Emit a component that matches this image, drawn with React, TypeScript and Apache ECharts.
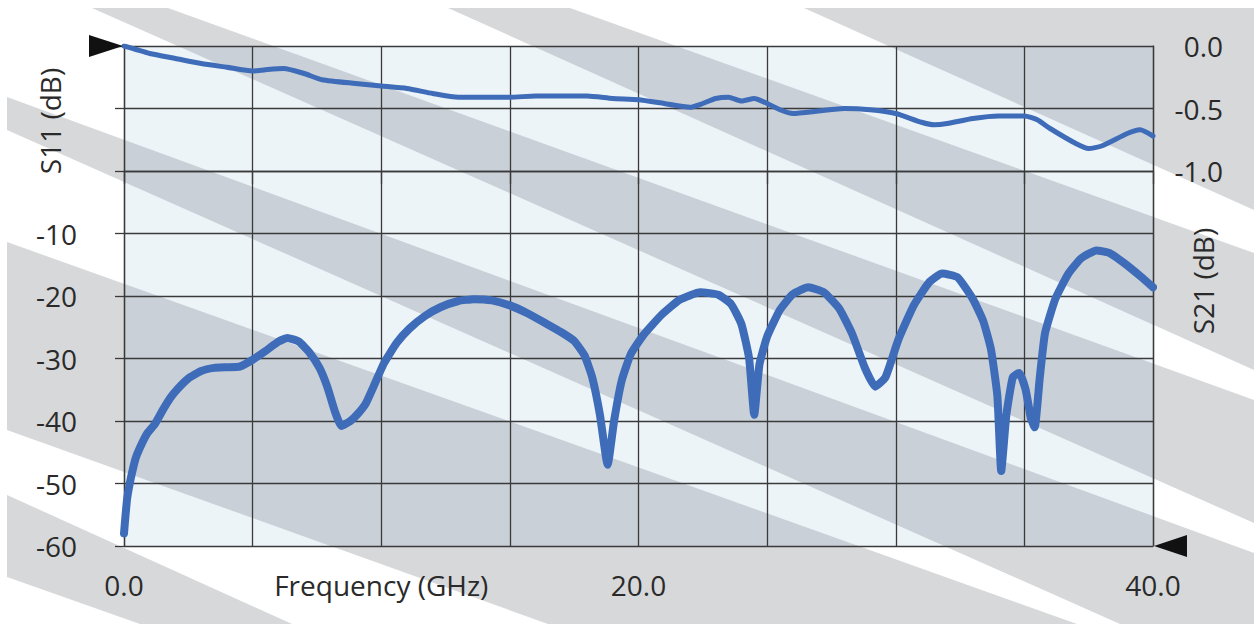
import React, { useEffect, useRef } from "react";
import * as echarts from "echarts";

// ---------- data ----------
// S21 insertion loss (right axis, dB) : [frequency GHz, dB]
const S21_DB: [number, number][] = [
  [0, 0], [0.5, -0.03], [1, -0.06], [2, -0.1], [3, -0.14], [4, -0.17], [5, -0.2],
  [5.5, -0.19], [6.2, -0.18], [7, -0.22], [7.7, -0.27], [9, -0.3], [10, -0.32],
  [11, -0.34], [12, -0.38], [13, -0.41], [14, -0.41], [15, -0.41], [16, -0.4],
  [17, -0.4], [18, -0.4], [19, -0.42], [20, -0.43], [21, -0.46], [22, -0.49],
  [22.5, -0.46], [23, -0.42], [23.5, -0.41], [24, -0.44], [24.5, -0.42], [25, -0.46],
  [25.5, -0.51], [26, -0.54], [27, -0.52], [28, -0.5], [29, -0.51], [30, -0.54],
  [31, -0.61], [31.5, -0.63], [32, -0.62], [33, -0.58], [34, -0.56], [35, -0.56],
  [35.5, -0.59], [36, -0.66], [37, -0.78], [37.5, -0.82], [38, -0.8], [39, -0.7],
  [39.5, -0.67], [40, -0.72],
];

// S11 return loss (left axis, dB) : [frequency GHz, dB]
const S11_DB: [number, number][] = [
  [0, -58], [0.05, -55.5], [0.12, -52.5], [0.2, -50.5], [0.3, -48.5], [0.45, -46],
  [0.65, -44], [0.9, -42], [1.2, -40.5], [1.5, -38.3], [1.8, -36.3], [2.1, -34.8],
  [2.5, -33.2], [3, -32], [3.5, -31.5], [4, -31.4], [4.5, -31.3], [5, -30.2],
  [5.5, -28.8], [6, -27.3], [6.35, -26.7], [6.8, -27.3], [7.2, -29], [7.6, -31.5],
  [7.9, -34.5], [8.2, -38.5], [8.45, -40.8], [8.8, -40], [9.1, -38.8], [9.4, -37.2],
  [9.7, -34.5], [10.1, -30.8], [10.6, -27.5], [11.1, -25.2], [11.7, -23.2],
  [12.3, -21.8], [13, -20.8], [13.6, -20.5], [14.3, -20.7], [15, -21.5], [15.7, -22.8],
  [16.4, -24.4], [17, -25.8], [17.5, -27.2], [17.9, -29.5], [18.2, -33], [18.5, -39],
  [18.8, -47], [19.05, -40], [19.35, -33.5], [19.7, -29.3], [20.2, -26.2], [20.9, -23],
  [21.6, -20.6], [22.4, -19.4], [23.1, -19.8], [23.6, -21.3], [24, -24.5], [24.3, -30],
  [24.5, -39], [24.7, -31], [25, -26.5], [25.5, -22.2], [26, -19.7], [26.6, -18.6],
  [27.2, -19.4], [27.8, -22], [28.3, -26], [28.8, -31.5], [29.2, -34.5], [29.6, -33],
  [30.1, -27], [30.7, -21.5], [31.3, -17.8], [31.8, -16.4], [32.4, -17], [33, -20.5],
  [33.4, -24], [33.7, -28.5], [33.95, -36], [34.1, -48], [34.3, -39], [34.55, -33],
  [34.8, -32.3], [35.05, -35], [35.25, -39.5], [35.4, -41], [35.6, -33], [35.8, -26],
  [36.2, -20.5], [36.7, -16.5], [37.2, -14], [37.8, -12.7], [38.3, -13.1], [38.9, -14.8],
  [39.5, -16.8], [40, -18.6],
];

// tick labels
const X_LABEL_VALUES = [0, 10, 20, 40];
const X_LABEL_TEXTS = ["0.0", "Frequency (GHz)", "20.0", "40.0"];
const LEFT_LABEL_VALUES = [-60, -50, -40, -30, -20, -10];
const RIGHT_LABEL_VALUES = [0, -0.5, -1.0];
const LEFT_AXIS_NAME = "S11 (dB)";
const RIGHT_AXIS_NAME = "S21 (dB)";

// ---------- layout / style ----------
const W = 1254;
const H = 624;
const GL = 124;
const GT = 46;
const GW = 1029;
const GH = 500;
const GR = GL + GW;
const GB = GT + GH;
const FONT = "Open Sans";
const FS = 28;
const TEXT = "#2a2a2a";
const LINE = "#3a3a3a";
const BLUE = "#3e6cb8";

// decorative diagonal background stripes (outer grey)
const STRIPES: number[][][] = [
  [[804, 8], [1254, 8], [1254, 210]],
  [[448, 8], [570, 8], [1254, 253], [1254, 370]],
  [[92, 8], [168, 8], [1254, 400], [1254, 523]],
  [[7, 97], [1254, 553], [1254, 624], [1120, 624], [7, 130]],
  [[7, 242], [1077, 624], [548, 624], [7, 430]],
  [[7, 495], [292, 624], [140, 624], [7, 577]],
];

function clipPoly(poly: number[][], x0: number, y0: number, x1: number, y1: number) {
  const planes: [(p: number[]) => boolean, (a: number[], b: number[]) => number[]][] = [
    [(p) => p[0] >= x0, (a, b) => { const t = (x0 - a[0]) / (b[0] - a[0]); return [x0, a[1] + t * (b[1] - a[1])]; }],
    [(p) => p[0] <= x1, (a, b) => { const t = (x1 - a[0]) / (b[0] - a[0]); return [x1, a[1] + t * (b[1] - a[1])]; }],
    [(p) => p[1] >= y0, (a, b) => { const t = (y0 - a[1]) / (b[1] - a[1]); return [a[0] + t * (b[0] - a[0]), y0]; }],
    [(p) => p[1] <= y1, (a, b) => { const t = (y1 - a[1]) / (b[1] - a[1]); return [a[0] + t * (b[0] - a[0]), y1]; }],
  ];
  let out = poly;
  for (const [inside, inter] of planes) {
    const input = out;
    out = [];
    for (let i = 0; i < input.length; i++) {
      const cur = input[i];
      const prev = input[(i + input.length - 1) % input.length];
      const ci = inside(cur);
      const pi = inside(prev);
      if (ci) {
        if (!pi) out.push(inter(prev, cur));
        out.push(cur);
      } else if (pi) {
        out.push(inter(prev, cur));
      }
    }
    if (out.length === 0) break;
  }
  return out;
}

function buildOption() {
  const graphics: any[] = [];
  STRIPES.forEach((p) => {
    graphics.push({ type: "polygon", z: -20, silent: true, shape: { points: p }, style: { fill: "#d7d8da" } });
  });
  graphics.push({ type: "rect", z: -19, silent: true, shape: { x: GL, y: GT, width: GW, height: GH }, style: { fill: "#edf4f8" } });
  STRIPES.forEach((p) => {
    const c = clipPoly(p, GL, GT, GR, GB);
    if (c.length >= 3) {
      graphics.push({ type: "polygon", z: -18, silent: true, shape: { points: c }, style: { fill: "#c9d0d8" } });
    }
  });
  // axis markers (triangles)
  graphics.push({ type: "polygon", z: 10, shape: { points: [[GL - 35, GT - 11], [GL - 1, GT], [GL - 35, GT + 11]] }, style: { fill: "#111" } });
  graphics.push({ type: "polygon", z: 10, shape: { points: [[GR + 1, GB], [GR + 34, GB - 11], [GR + 34, GB + 11]] }, style: { fill: "#111" } });
  // axis names
  graphics.push({
    type: "text", z: 10, x: 50, y: GT + 75, rotation: Math.PI / 2,
    style: { text: LEFT_AXIS_NAME, font: `${FS}px "${FONT}"`, fill: TEXT, align: "center", verticalAlign: "middle" },
  });
  graphics.push({
    type: "text", z: 10, x: GR + 50, y: GT + 235, rotation: Math.PI / 2,
    style: { text: RIGHT_AXIS_NAME, font: `${FS}px "${FONT}"`, fill: TEXT, align: "center", verticalAlign: "middle" },
  });

  const labelStyle = { fontFamily: FONT, fontSize: FS, color: TEXT };

  return {
    animation: false,
    backgroundColor: "#ffffff",
    grid: { left: GL, top: GT, width: GW, height: GH, containLabel: false },
    graphic: { elements: graphics },
    xAxis: {
      type: "value", min: 0, max: 40, interval: 5,
      axisLine: { show: true, lineStyle: { color: LINE, width: 1.3 } },
      axisTick: { show: true, inside: false, length: 13, lineStyle: { color: LINE, width: 1.3 } },
      splitLine: { show: true, lineStyle: { color: LINE, width: 1.3 } },
      axisLabel: {
        ...labelStyle, margin: 25,
        formatter: (v: number) => {
          const i = X_LABEL_VALUES.indexOf(Math.round(v * 100) / 100);
          return i >= 0 ? X_LABEL_TEXTS[i] : "";
        },
      },
    },
    yAxis: [
      {
        type: "value", position: "left", min: -60, max: 20, interval: 10,
        axisLine: { show: true, lineStyle: { color: LINE, width: 1.3 } },
        axisTick: { show: true, inside: false, length: 9, lineStyle: { color: LINE, width: 1.3 } },
        splitLine: { show: true, lineStyle: { color: LINE, width: 1.3 } },
        axisLabel: {
          ...labelStyle, margin: 47, align: "right",
          formatter: (v: number) => (LEFT_LABEL_VALUES.indexOf(Math.round(v)) >= 0 ? String(Math.round(v)) : ""),
        },
      },
      {
        type: "value", position: "right", min: -4, max: 0, interval: 0.5,
        axisLine: { show: true, lineStyle: { color: LINE, width: 1.3 } },
        axisTick: { show: false },
        splitLine: { show: false },
        axisLabel: {
          ...labelStyle, margin: 70, align: "right",
          formatter: (v: number) => {
            const r = Math.round(v * 10) / 10;
            return RIGHT_LABEL_VALUES.some((t) => Math.abs(t - r) < 1e-6) ? (r === 0 ? "0.0" : r.toFixed(1)) : "";
          },
        },
      },
    ],
    series: [
      {
        name: "S11", type: "line", yAxisIndex: 0, data: S11_DB, showSymbol: false, smooth: 0.15,
        lineStyle: { color: BLUE, width: 8, cap: "round", join: "round" }, itemStyle: { color: BLUE }, z: 5,
      },
      {
        name: "S21", type: "line", yAxisIndex: 1, data: S21_DB, showSymbol: false, smooth: 0.2,
        lineStyle: { color: BLUE, width: 5, cap: "round", join: "round" }, itemStyle: { color: BLUE }, z: 5,
      },
    ],
  };
}

export default function App() {
  const ref = useRef<HTMLDivElement>(null);
  useEffect(() => {
    document.body.style.margin = "0";
    const chart = echarts.init(ref.current!, null, { renderer: "svg" });
    chart.setOption(buildOption() as any);
    return () => chart.dispose();
  }, []);
  return <div ref={ref} style={{ width: W, height: H }} />;
}
